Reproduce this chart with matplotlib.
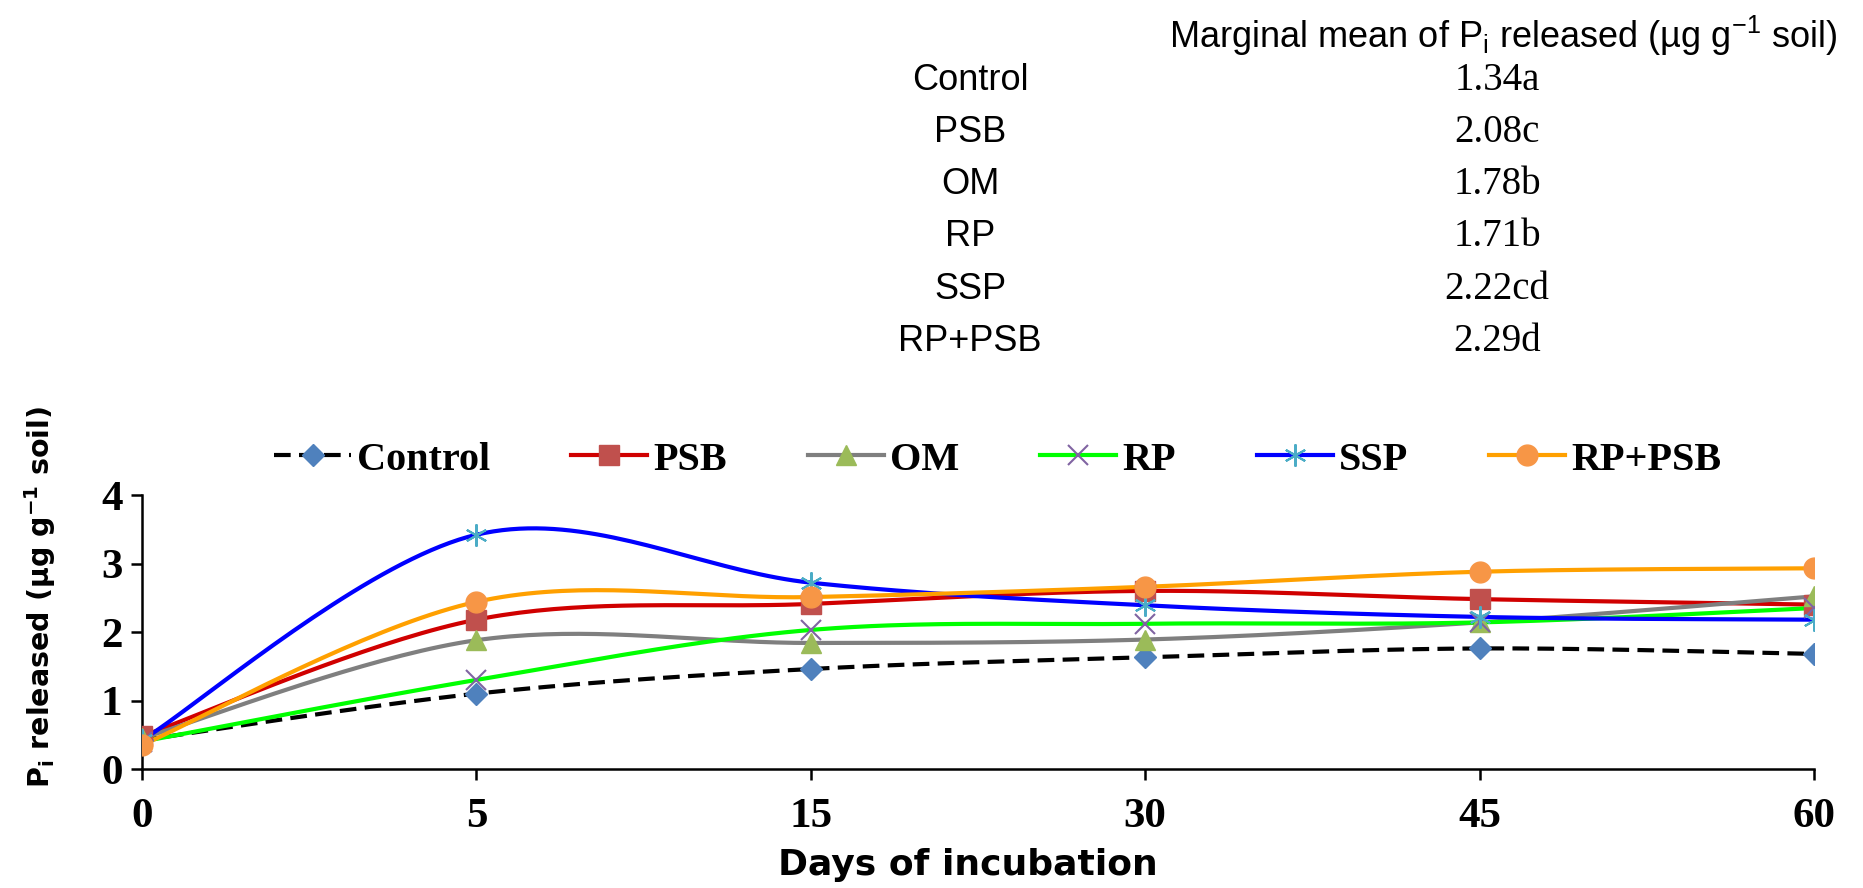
import numpy as np
import matplotlib
matplotlib.use("Agg")
import matplotlib.pyplot as plt
from matplotlib.lines import Line2D

# ---------------- data ----------------
days = ["0", "5", "15", "30", "45", "60"]
treatments = ["Control", "PSB", "OM", "RP", "SSP", "RP+PSB"]
control = [0.42, 1.10, 1.46, 1.63, 1.76, 1.68]
psb     = [0.48, 2.18, 2.41, 2.60, 2.48, 2.40]
om      = [0.45, 1.88, 1.84, 1.89, 2.14, 2.52]
rp      = [0.40, 1.30, 2.03, 2.12, 2.14, 2.35]
ssp     = [0.42, 3.42, 2.72, 2.39, 2.22, 2.18]
rp_psb  = [0.35, 2.44, 2.51, 2.66, 2.88, 2.93]
marginal_means = ["1.34a", "2.08c", "1.78b", "1.71b", "2.22cd", "2.29d"]
table_header = r"Marginal mean of P$_\mathregular{i}$ released (µg g$^\mathregular{-1}$ soil)"
ylabel = r"P$_\mathregular{i}$ released (µg g$^\mathregular{-1}$ soil)"
xlabel = "Days of incubation"
yticks = [0, 1, 2, 3, 4]

series = [control, psb, om, rp, ssp, rp_psb]
line_colors = ["black", "#D00000", "#7F7F7F", "#00FF00", "#0000FF", "#FFA000"]
marker_colors = ["#4F81BD", "#C0504D", "#9BBB59", "#8064A2", "#4BACC6", "#F79646"]
markers = ["D", "s", "^", "x", (6, 2, 0), "o"]
msizes = [11, 14, 14, 15, 16, 15]


def smooth(y, n=40):
    """Excel-like smoothed line (Catmull-Rom as cubic Bezier)."""
    x = np.arange(len(y), dtype=float)
    y = np.asarray(y, dtype=float)
    P = np.column_stack([x, y])
    out = []
    m = len(P)
    for i in range(m - 1):
        p0 = P[i - 1] if i > 0 else P[i]
        p1 = P[i]
        p2 = P[i + 1]
        p3 = P[i + 2] if i + 2 < m else P[i + 1]
        c1 = p1 + (p2 - p0) / 6.0
        c2 = p2 - (p3 - p1) / 6.0
        t = np.linspace(0, 1, n)[:, None]
        seg = ((1 - t) ** 3) * p1 + 3 * ((1 - t) ** 2) * t * c1 + 3 * (1 - t) * t ** 2 * c2 + t ** 3 * p2
        if i > 0:
            seg = seg[1:]
        out.append(seg)
    out = np.vstack(out)
    return out[:, 0], out[:, 1]


W, H = 1863, 888
fig = plt.figure(figsize=(W / 100, H / 100), dpi=100)
ax = fig.add_axes([142 / W, 1 - 769 / H, (1814 - 142) / W, (769 - 495) / H])

serif = "Liberation Serif"
sans = "Liberation Sans"

handles = []
for i, (vals, name) in enumerate(zip(series, treatments)):
    xs, ys = smooth(vals)
    ls = (0, (4, 2)) if i == 0 else "-"
    ax.plot(xs, ys, color=line_colors[i], lw=3, linestyle=ls, zorder=2 + i)
    thin = markers[i] == "x" or isinstance(markers[i], tuple)
    mew = 1.5 if thin else 1
    ax.plot(np.arange(len(vals)), vals, linestyle="none", marker=markers[i],
            markersize=msizes[i], color=marker_colors[i], mec=marker_colors[i],
            mew=mew, zorder=10 + i)
    handles.append(Line2D([0], [0], color=line_colors[i], lw=3, linestyle=ls,
                          marker=markers[i], markersize=msizes[i],
                          markerfacecolor=marker_colors[i], markeredgecolor=marker_colors[i],
                          mew=mew))

ax.set_xlim(0, len(days) - 1)
ax.set_ylim(0, 4)
ax.set_xticks(range(len(days)))
ax.set_xticklabels(days)
ax.set_yticks(yticks)
for s in ["top", "right"]:
    ax.spines[s].set_visible(False)
for s in ["left", "bottom"]:
    ax.spines[s].set_linewidth(1.8)
ax.tick_params(axis="both", direction="out", length=8, width=1.8)
ax.tick_params(axis="x", pad=13)
ax.tick_params(axis="y", pad=6)
for lab in ax.get_xticklabels() + ax.get_yticklabels():
    lab.set_fontfamily(serif)
    lab.set_fontweight("bold")
    lab.set_fontsize(31)

# axis labels
fig.text(40 / W, 1 - 597 / H, ylabel, rotation=90, ha="center", va="center",
         fontsize=20.5, fontweight="bold", family="DejaVu Sans")
fig.text(968 / W, 1 - 865 / H, xlabel, ha="center", va="center",
         fontsize=26, fontweight="bold", family="DejaVu Sans")

# legend
fig.legend(handles, treatments, loc="center", bbox_to_anchor=(998 / W, 1 - 460 / H),
           ncol=6, frameon=False, handlelength=1.9, handletextpad=0.15,
           columnspacing=2.0, prop={"family": serif, "weight": "bold", "size": 29})

# table
fig.text(1503 / W, 1 - 36 / H, table_header, ha="center", va="center",
         fontsize=26, family=sans)
row_y = [81, 133, 185, 237, 289, 341]
for name, val, yy in zip(treatments, marginal_means, row_y):
    fig.text(970 / W, 1 - yy / H, name, ha="center", va="center", fontsize=26, family=sans)
    fig.text(1497 / W, 1 - yy / H, val, ha="center", va="center", fontsize=28, family=serif)

fig.savefig("out.png", dpi=100)
